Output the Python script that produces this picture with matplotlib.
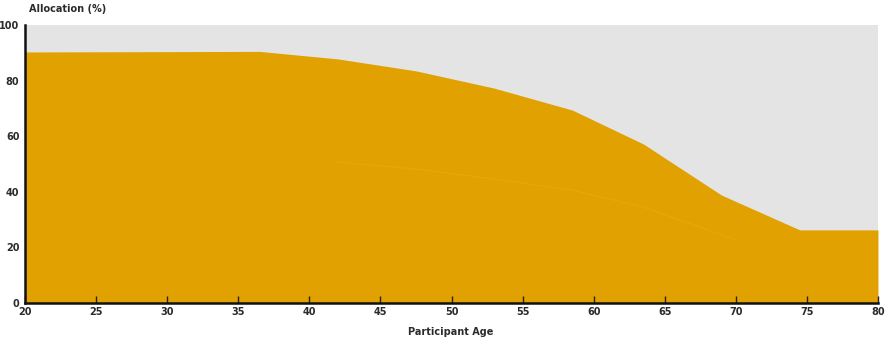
import numpy as np
import matplotlib
matplotlib.use("Agg")
import matplotlib.pyplot as plt

# glide path data
ages = [20, 36.5, 42, 47.5, 53, 58.5, 63.5, 69, 74.5, 80]
equity = [90.3, 90.5, 87.8, 83.5, 77.3, 69.4, 57.2, 38.8, 26.3, 26.3]
inner_ages = [42, 47.5, 53, 58.5, 63.5, 70]
inner_line = [50.7, 48.2, 44.6, 40.6, 34.5, 22.7]
xticks = [20, 25, 30, 35, 40, 45, 50, 55, 60, 65, 70, 75, 80]
yticks = [0, 20, 40, 60, 80, 100]

orange = "#E1A100"
grey = "#E4E4E4"
text_col = "#2b2b2b"

plt.rcParams['font.family'] = 'DejaVu Sans'
plt.rcParams['font.size'] = 7

fig = plt.figure(figsize=(8.88, 3.41), dpi=100)
ax = fig.add_axes([0.0282, 0.1114, 0.9605, 0.8153])

ax.fill_between(ages, 0, 100, color=grey, lw=0)
ax.fill_between(ages, 0, equity, color=orange, lw=0)
ax.plot(inner_ages, inner_line, color="#E6A70A", lw=0.9)

ax.set_xlim(20, 80)
ax.set_ylim(0, 100)
ax.set_xticks(xticks)
ax.set_yticks(yticks)
ax.tick_params(axis='x', direction='in', length=5, width=1, color="#222222",
               labelsize=7, labelcolor=text_col, pad=3)
ax.tick_params(axis='y', length=0, labelsize=7, labelcolor=text_col, pad=4)
for lab in ax.get_xticklabels() + ax.get_yticklabels():
    lab.set_fontweight('bold')

for s in ['top', 'right']:
    ax.spines[s].set_visible(False)
ax.spines['left'].set_linewidth(1.8)
ax.spines['bottom'].set_linewidth(1.8)
ax.spines['left'].set_color("#111111")
ax.spines['bottom'].set_color("#111111")

fig.text(0.033, 0.975, "Allocation (%)", fontsize=7, fontweight='bold',
         color=text_col, ha='left', va='center')
fig.text(0.508, 0.026, "Participant Age", fontsize=7, fontweight='bold',
         color=text_col, ha='center', va='center')

plt.savefig("out.png", dpi=100)
